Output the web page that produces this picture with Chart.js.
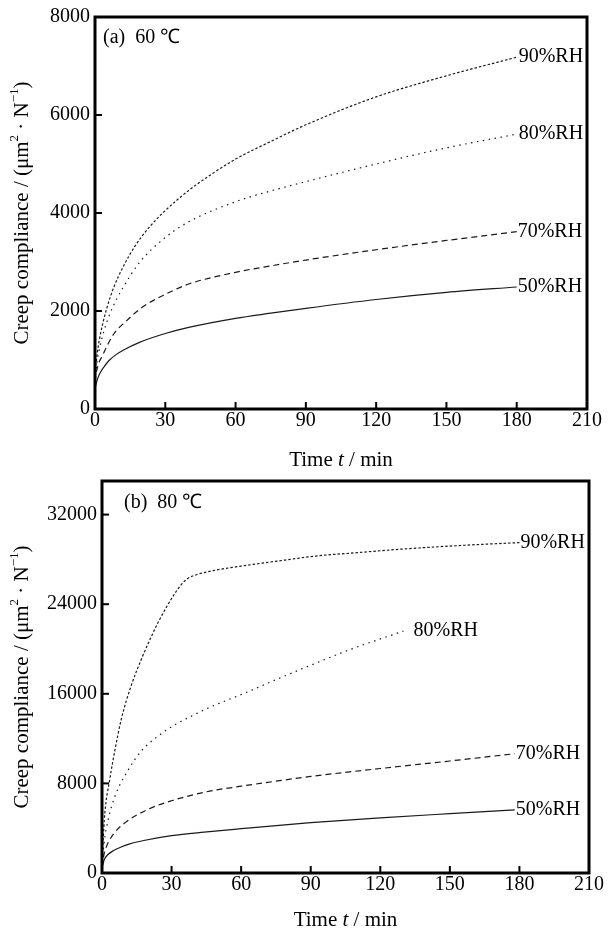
<!DOCTYPE html>
<html>
<head>
<meta charset="utf-8">
<script src="https://cdn.jsdelivr.net/npm/chart.js@4.4.1/dist/chart.umd.min.js"></script>
<style>
body { margin: 0; background: #fff; }
#wrap { position: relative; width: 613px; height: 928px; }
#c1 { position: absolute; left: 0; top: 0; }
#c2 { position: absolute; left: 0; top: 464px; }
</style>
</head>
<body>
<div id="wrap">
  <canvas id="c1" width="613" height="470"></canvas>
  <canvas id="c2" width="613" height="464"></canvas>
</div>
<script>
const seriesNames = ['50%RH', '70%RH', '80%RH', '90%RH']
const xTicks = [0, 30, 60, 90, 120, 150, 180, 210]
const yTicksA = [0, 2000, 4000, 6000, 8000]
const yTicksB = [0, 8000, 16000, 24000, 32000]

// (a) 60 ℃  -- time (min) / creep compliance
const tA50 = [0, 1, 2, 4, 6, 9, 12, 19, 30, 40, 60, 75, 90, 120, 150, 180]
const vA50 = [420, 600, 720, 870, 990, 1110, 1200, 1360, 1540, 1665, 1850, 1955, 2055, 2235, 2380, 2490]
const tA70 = [0, 0.7, 3.5, 8, 13, 20, 30, 40, 60, 75, 90, 120, 150, 180]
const vA70 = [550, 780, 1120, 1530, 1780, 2070, 2340, 2550, 2790, 2920, 3040, 3250, 3440, 3620]
const tA80 = [0, 0.7, 2, 4, 6, 9, 12, 19, 30, 40, 60, 75, 90, 120, 150, 180]
const vA80 = [580, 900, 1250, 1620, 1900, 2220, 2480, 2990, 3500, 3820, 4230, 4450, 4640, 5000, 5330, 5610]
const tA90 = [0, 1, 2.5, 5, 8, 12, 17, 23, 30, 40, 50, 60, 75, 90, 120, 150, 180]
const vA90 = [700, 1150, 1570, 2050, 2480, 2900, 3320, 3700, 4050, 4460, 4800, 5100, 5460, 5800, 6370, 6800, 7180]

// (b) 80 ℃
const tB50 = [0, 1, 2.6, 5, 8, 12, 18, 30, 44, 60, 90, 120, 150, 178]
const vB50 = [450, 1200, 1650, 2000, 2300, 2600, 2900, 3330, 3650, 3960, 4500, 4930, 5300, 5630]
const tB70 = [0, 0.8, 2, 5, 10, 20, 30, 45, 60, 75, 90, 120, 150, 178]
const vB70 = [500, 1600, 2400, 3500, 4500, 5700, 6450, 7250, 7750, 8200, 8620, 9330, 10000, 10650]
const tB80 = [0, 0.8, 2.6, 5.5, 11, 17, 25, 32, 38, 46, 62, 76, 90, 107, 130]
const vB80 = [500, 2500, 4700, 6800, 9100, 10900, 12350, 13300, 13950, 14750, 16100, 17350, 18550, 19950, 21600]
const tB90 = [0, 0.4, 1.2, 3.3, 5.5, 8.4, 12.7, 17, 20.6, 24.5, 30.6, 34, 37, 41, 48, 60, 81, 92, 110, 128, 157, 180]
const vB90 = [500, 2500, 5300, 8300, 10900, 13800, 16800, 19100, 20800, 22500, 24700, 25700, 26300, 26650, 27000, 27400, 28000, 28300, 28600, 28900, 29270, 29500]

const SERIF = '"Liberation Serif", "Times New Roman", serif'
const dashes = [[], [6, 4], [1.5, 4.5], [2.5, 2]]

const toPoints = (t, v) => t.map((x, i) => ({ x: x, y: v[i] }))

// draws text pieces in a row, centred on (cx, cy)
const drawParts = (ctx, parts, cx, cy) => {
    const w = parts.map(p => { ctx.font = p.font; return ctx.measureText(p.text).width })
    let x = cx - w.reduce((a, b) => a + b, 0) / 2
    parts.forEach((p, i) => {
        ctx.font = p.font
        ctx.fillText(p.text, x, cy - (p.rise || 0))
        x += w[i]
    })
}

const frameAndTicks = {
    id: 'frameAndTicks',
    afterDraw(chart) {
        const { ctx, chartArea: a, scales } = chart
        ctx.save()
        ctx.strokeStyle = '#000'
        ctx.lineWidth = 2
        scales.x.ticks.forEach(t => {
            const px = scales.x.getPixelForValue(t.value)
            ctx.beginPath(); ctx.moveTo(px, a.bottom); ctx.lineTo(px, a.bottom - 7); ctx.stroke()
        })
        scales.y.ticks.forEach(t => {
            const py = scales.y.getPixelForValue(t.value)
            ctx.beginPath(); ctx.moveTo(a.left, py); ctx.lineTo(a.left + 7, py); ctx.stroke()
        })
        ctx.lineWidth = 3
        ctx.strokeRect(a.left, a.top, a.right - a.left, a.bottom - a.top)
        ctx.restore()
    }
}

const panelText = {
    id: 'panelText',
    afterDraw(chart, args, opts) {
        const { ctx, chartArea: a } = chart
        ctx.save()
        ctx.fillStyle = '#000'
        ctx.textAlign = 'left'
        ctx.textBaseline = 'alphabetic'
        ctx.font = '20px ' + SERIF
        ctx.fillText(opts.tag, a.left + opts.tagX, a.top + opts.tagY)

        // curve names at the end of each line
        ctx.textBaseline = 'middle'
        chart.data.datasets.forEach((ds, i) => {
            const pts = chart.getDatasetMeta(i).data
            const p = pts[pts.length - 1]
            ctx.fillText(ds.label, p.x + opts.gaps[i], p.y)
        })

        // axis titles
        const f = '21px ' + SERIF
        const fs = '13px ' + SERIF
        drawParts(ctx, [
            { text: 'Time ', font: f },
            { text: 't', font: 'italic ' + f },
            { text: ' / min', font: f }
        ], (a.left + a.right) / 2, a.bottom + opts.xTitleDy)

        ctx.translate(opts.yTitleX, (a.top + a.bottom) / 2)
        ctx.rotate(-Math.PI / 2)
        drawParts(ctx, [
            { text: 'Creep compliance / (μm', font: f },
            { text: '2', font: fs, rise: 7 },
            { text: ' · N', font: f },
            { text: '−1', font: fs, rise: 7 },
            { text: ')', font: f }
        ], 0, 0)
        ctx.restore()
    }
}

const makeChart = (el, series, yMax, yTicks, padRight, yWidth, xHeight, textOpts) => {
    new Chart(el, {
        type: 'line',
        data: {
            datasets: series.map((pts, i) => ({
                label: seriesNames[i],
                data: pts,
                borderColor: '#1a1a1a',
                borderWidth: 1.2,
                borderDash: dashes[i],
                pointRadius: 0,
                cubicInterpolationMode: 'monotone',
                fill: false
            }))
        },
        options: {
            responsive: false,
            animation: false,
            layout: { padding: { top: 16, right: padRight, bottom: 0, left: 0 } },
            plugins: {
                legend: { display: false },
                tooltip: { enabled: false },
                panelText: textOpts
            },
            scales: {
                x: {
                    type: 'linear',
                    min: 0,
                    max: 210,
                    afterBuildTicks: s => { s.ticks = xTicks.map(v => ({ value: v })) },
                    afterFit: s => { s.height = xHeight },
                    grid: { display: false, drawTicks: false },
                    border: { display: false },
                    ticks: { color: '#000', padding: 0, maxRotation: 0, callback: v => String(v), font: { family: SERIF, size: 20 } }
                },
                y: {
                    min: 0,
                    max: yMax,
                    afterBuildTicks: s => { s.ticks = yTicks.map(v => ({ value: v })) },
                    afterFit: s => { s.width = yWidth },
                    grid: { display: false, drawTicks: false },
                    border: { display: false },
                    ticks: { color: '#000', padding: 5, callback: v => String(v), font: { family: SERIF, size: 20 } }
                }
            }
        },
        plugins: [frameAndTicks, panelText]
    })
}

makeChart(document.getElementById('c1'),
    [toPoints(tA50, vA50), toPoints(tA70, vA70), toPoints(tA80, vA80), toPoints(tA90, vA90)],
    8000, yTicksA, 26, 95, 61,
    { tag: '(a)  60 ℃', tagX: 8, tagY: 26, gaps: [1, 1, 2, 2], xTitleDy: 51, yTitleX: 22 })

makeChart(document.getElementById('c2'),
    [toPoints(tB50, vB50), toPoints(tB70, vB70), toPoints(tB80, vB80), toPoints(tB90, vB90)],
    35000, yTicksB, 24, 102, 55,
    { tag: '(b)  80 ℃', tagX: 22, tagY: 27, gaps: [1, 1, 10, 1], xTitleDy: 47, yTitleX: 22 })
</script>
</body>
</html>
